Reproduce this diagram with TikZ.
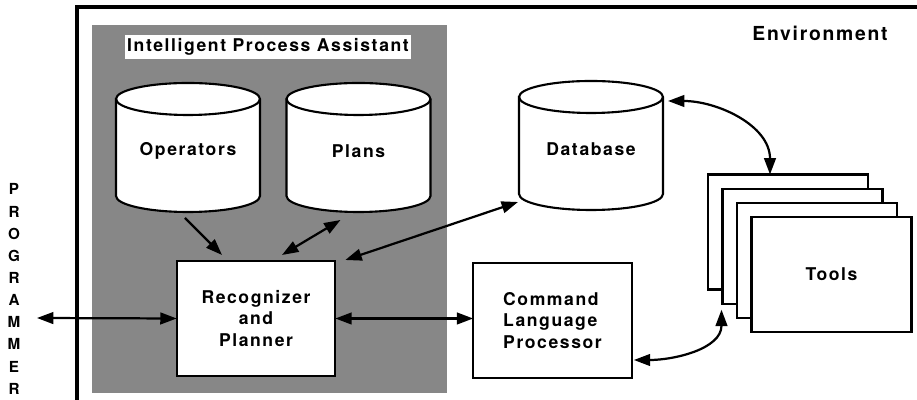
\documentclass[tikz,border=0pt]{standalone}
\usepackage{fontspec}
\setmainfont{TeX Gyre Heros}[LetterSpace=9]
\usetikzlibrary{arrows.meta}

\tikzset{
  lbl/.style={font=\bfseries\fontsize{15}{18.7}\selectfont, align=center},
  box/.style={draw, line width=1.8pt, fill=white, inner sep=0pt, outer sep=0pt,
              minimum width=4.76cm, minimum height=3.45cm},
  drumbody/.style={inner sep=0pt, outer sep=0pt, minimum width=4.32cm, minimum height=2.91cm},
  frame/.style={line width=2.8pt},
  halftone/.style={fill=black!47},
  link/.style={line width=1.9pt, {Triangle[length=14pt,width=10pt]}-{Triangle[length=14pt,width=10pt]}},
  oneway/.style={line width=1.9pt, -{Triangle[length=14pt,width=10pt]}}
}

% cylinder: name, centre, text
\newcommand{\drum}[3]{%
  \node[drumbody] (#1) at (#2) {};
  \draw[line width=1.8pt, fill=white] (#1.north west) -- (#1.south west)
    arc[start angle=180, end angle=360, x radius=72, y radius=16] -- (#1.north east)
    arc[start angle=0, end angle=180, x radius=72, y radius=16] -- cycle;
  \draw[line width=1.8pt] (#1.north west) arc[start angle=180, end angle=360, x radius=72, y radius=16];
  \node[lbl] (#1-txt) at ([yshift=-3]#1.center) {#3};
}

\begin{document}
\begin{tikzpicture}[x=0.03cm, y=0.03cm]
  \useasboundingbox (0,0) rectangle (917,400);

  % environment
  \draw[frame] (77,0) -- (77,393) -- (917,393);
  \node[lbl, font=\bfseries\fontsize{16.5}{19}\selectfont] (env) at (820,367) {Environment};

  % intelligent process assistant
  \fill[halftone] (92,7) rectangle (447,375);
  \node[lbl, fill=white, inner xsep=2pt, inner ysep=3pt] (ipa) at (268,353) {Intelligent Process Assistant};

  \drum{ops}{188,252.5}{Operators}
  \drum{plans}{358.5,252.5}{Plans}
  \drum{db}{591,254.5}{Database}

  \node[box, lbl] (planner) at (256,81.5) {Recognizer\\and\\Planner};
  \node[box, lbl, align=left] (cmd) at (552.5,79.5) {Command\\Language\\Processor};

  % tools, stacked
  \foreach \i/\txt in {0/,1/,2/,3/Tools}
    \node[box, lbl, minimum width=4.8cm] (t\i) at (788+14.5*\i,168-14.2*\i) {\txt};

  % programmer
  \node[lbl, font=\bfseries\fontsize{13}{18.9}\selectfont] (progr) at (14,111) {P\\R\\O\\G\\R\\A\\M\\M\\E\\R};
  \coordinate (prog) at (37,82);

  % connectors
  \draw[link] (prog) -- (planner.west);
  \draw[link] (planner.east) -- (planner.east -| cmd.west);
  \draw[oneway] ([shift={(-3,-22)}]ops.south) -- ([shift={(-34,6)}]planner.north);
  \draw[link] ([shift={(26,6)}]planner.north) -- ([shift={(-18,-24)}]plans.south);
  \draw[link] ([shift={(10,1)}]planner.north east) -- ([shift={(-1,-8)}]db.south west);
  \draw[link] ([shift={(5,-4)}]db.north east) to[out=0, in=90] ([shift={(-18,0)}]t0.north);
  \draw[link] ([shift={(2,18)}]cmd.south east) to[out=0, in=-90] ([shift={(-1,-6)}]t1.south west);
\end{tikzpicture}
\end{document}
